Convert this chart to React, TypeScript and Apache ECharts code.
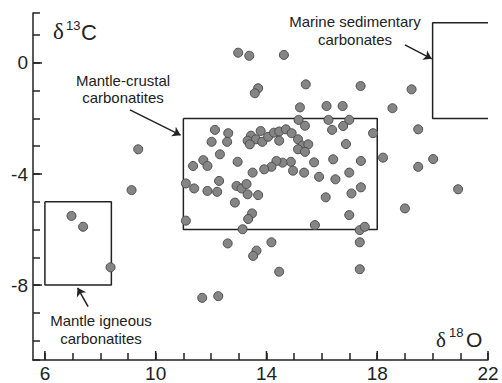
import React, { useEffect, useRef } from 'react';
import * as echarts from 'echarts';

// δ18O (x) and δ13C (y) of the plotted samples
const d18O = [
  15.21, 16.17, 16.75, 18.55, 15.16, 16.24, 16.99, 15.39, 16.37, 16.77,
  17.85, 16.87, 12.14, 12.62, 12.02, 12.58, 13.44, 13.79, 13.32, 13.62,
  13.40, 13.85, 14.06, 14.27, 14.46, 14.70, 14.91, 14.46, 15.14, 15.30,
  15.51, 15.14, 15.39, 9.37, 12.32, 11.72, 11.35, 11.87, 12.96, 18.21,
  17.41, 16.41, 15.72, 14.88, 14.58, 14.36, 14.18, 13.92, 14.96, 15.36,
  15.90, 16.99, 13.50, 16.49, 9.13, 11.09, 11.39, 11.87, 12.22, 12.29,
  12.92, 13.10, 13.28, 13.32, 13.70, 12.86, 17.41, 17.07, 16.14, 16.99,
  13.48, 13.34, 11.09, 13.14, 15.75, 17.37, 17.55, 12.60, 14.18, 13.64,
  13.52, 17.37, 12.98, 13.38, 14.63, 15.42, 13.70, 13.58, 17.40, 19.24,
  19.48, 20.02, 19.48, 20.92, 19.00, 17.37, 14.46, 11.68, 12.26, 6.96,
  7.38, 8.37,
];
const d13C = [
  -1.60, -1.55, -1.55, -1.63, -2.05, -2.05, -2.05, -2.26, -2.41, -2.27,
  -2.53, -2.92, -2.41, -2.53, -2.84, -2.84, -2.62, -2.45, -2.80, -2.75,
  -2.93, -2.84, -2.66, -2.51, -2.47, -2.39, -2.53, -2.80, -2.75, -2.98,
  -2.93, -3.11, -3.20, -3.11, -3.29, -3.50, -3.71, -3.71, -3.56, -3.41,
  -3.53, -3.47, -3.58, -3.56, -3.59, -3.53, -3.74, -3.83, -3.88, -3.95,
  -4.10, -3.95, -3.95, -4.19, -4.58, -4.34, -4.52, -4.61, -4.64, -4.25,
  -4.43, -4.52, -4.36, -4.73, -4.76, -5.03, -4.48, -4.70, -4.84, -5.48,
  -5.42, -5.62, -5.68, -5.99, -5.84, -6.02, -5.90, -6.50, -6.46, -6.76,
  -6.95, -6.46, 0.37, 0.26, 0.29, -0.77, -0.91, -1.09, -0.83, -0.95,
  -2.39, -3.46, -3.74, -4.55, -5.24, -7.43, -7.52, -8.46, -8.40, -5.51,
  -5.90, -7.36,
];

const X_MIN = 5.57;
const X_MAX = 22;
const Y_MIN = -10.7;
const Y_MAX = 1.8;

const xLabelValues = [6, 10, 14, 18, 22];
const yLabelValues = [-8, -4, 0];

// field boxes (δ18O, δ13C)
const igneousBox = [[6, -5], [8.4, -5], [8.4, -8], [6, -8], [6, -5]];
const crustalBox = [[11, -2], [18, -2], [18, -6], [11, -6], [11, -2]];
const marineBox = [[22, 1.45], [20, 1.45], [20, -2], [22, -2]];

// arrows: [tail, tip]
const arrows = [
  [[9.07, -1.69], [10.9, -2.6]],
  [[19.0, 0.65], [19.97, 0.15]],
  [[7.56, -8.78], [7.18, -8.1]],
];

const INK = '#222222';
const SANS = 'Liberation Sans, Arial, sans-serif';
const SERIF = 'Liberation Serif, Times New Roman, serif';

const isIn = (values: number[], v: number) => values.some((t) => Math.abs(t - v) < 1e-6);
const labelOnly = (values: number[]) => (v: number) => (isIn(values, v) ? String(v) : '');

export default function App() {
  const ref = useRef<HTMLDivElement>(null);
  useEffect(() => {
    if (!ref.current) return;
    const chart = echarts.init(ref.current, undefined, { renderer: 'svg' });
    const points = d18O.map((x, i) => [x, d13C[i]]);
    const boxSeries = (data: number[][], extra: any = {}) => ({
      type: 'line',
      data,
      symbol: 'none',
      silent: true,
      z: 2,
      lineStyle: { color: INK, width: 1.5 },
      ...extra,
    });
    const axisCommon = {
      type: 'value',
      minInterval: 1,
      maxInterval: 1,
      axisLine: { show: true, onZero: false, lineStyle: { color: INK, width: 1.5 } },
      axisTick: { show: true, inside: true, length: 7, lineStyle: { color: INK, width: 1.5 } },
      splitLine: { show: false },
    };
    // slightly longer ticks at the labelled values
    const majorTicks = (axis: 'x' | 'y', values: number[]) => ({
      type: 'custom',
      silent: true,
      clip: false,
      z: 3,
      data: values.map((v) => (axis === 'x' ? [v, Y_MIN] : [X_MIN, v])),
      renderItem: (_params: any, api: any) => {
        const p = api.coord([api.value(0), api.value(1)]);
        return {
          type: 'line',
          shape:
            axis === 'x'
              ? { x1: p[0], y1: p[1], x2: p[0], y2: p[1] - 9 }
              : { x1: p[0], y1: p[1], x2: p[0] + 9, y2: p[1] },
          style: { stroke: INK, lineWidth: 1.5 },
        };
      },
    });
    chart.setOption({
      animation: false,
      grid: { left: 33, top: 13, right: 14, bottom: 23, containLabel: false },
      xAxis: {
        ...axisCommon,
        min: X_MIN,
        max: X_MAX,
        splitNumber: 16,
        axisLabel: {
          showMinLabel: false,
          formatter: labelOnly(xLabelValues),
          margin: 4,
          fontSize: 19,
          color: INK,
          fontFamily: SANS,
        },
      },
      yAxis: {
        ...axisCommon,
        min: Y_MIN,
        max: Y_MAX,
        splitNumber: 12,
        axisLabel: {
          formatter: labelOnly(yLabelValues),
          margin: 5,
          fontSize: 19,
          color: INK,
          fontFamily: SANS,
        },
      },
      series: [
        majorTicks('x', xLabelValues),
        majorTicks('y', yLabelValues),
        boxSeries(igneousBox, {
          markLine: {
            silent: true,
            symbol: ['none', 'arrow'],
            symbolSize: 8,
            label: { show: false },
            lineStyle: { color: INK, width: 1.5, type: 'solid' },
            data: arrows.map(([a, b]) => [{ coord: a }, { coord: b }]),
          },
        }),
        boxSeries(crustalBox),
        boxSeries(marineBox),
        {
          type: 'scatter',
          data: points,
          symbolSize: 9,
          z: 5,
          itemStyle: { color: '#858585', borderColor: '#4d4d4d', borderWidth: 1, opacity: 1 },
        },
      ],
      graphic: [
        { type: 'text', left: 53, top: 20, style: { text: 'δ', font: `23px ${SERIF}`, fill: INK } },
        { type: 'text', left: 66, top: 19, style: { text: '13', font: `13px ${SANS}`, fill: INK } },
        { type: 'text', left: 81, top: 21, style: { text: 'C', font: `22px ${SANS}`, fill: INK } },
        { type: 'text', left: 436, top: 329, style: { text: 'δ', font: `21px ${SERIF}`, fill: INK } },
        { type: 'text', left: 449, top: 326, style: { text: '18', font: `13px ${SANS}`, fill: INK } },
        { type: 'text', left: 466, top: 329, style: { text: 'O', font: `21px ${SANS}`, fill: INK } },
        {
          type: 'text', x: 355, y: 30,
          style: { text: 'Marine sedimentary\ncarbonates', font: `15px ${SANS}`, fill: INK, align: 'center', verticalAlign: 'middle', lineHeight: 18 },
        },
        {
          type: 'text', x: 123, y: 88.5,
          style: { text: 'Mantle-crustal\ncarbonatites', font: `15px ${SANS}`, fill: INK, align: 'center', verticalAlign: 'middle', lineHeight: 17 },
        },
        {
          type: 'text', x: 101, y: 329,
          style: { text: 'Mantle igneous\ncarbonatites', font: `15px ${SANS}`, fill: INK, align: 'center', verticalAlign: 'middle', lineHeight: 18 },
        },
      ],
    });
    return () => chart.dispose();
  }, []);
  return (
    <div
      ref={ref}
      style={{ position: 'fixed', left: 0, top: 0, width: 502, height: 383, background: '#fff' }}
    />
  );
}
